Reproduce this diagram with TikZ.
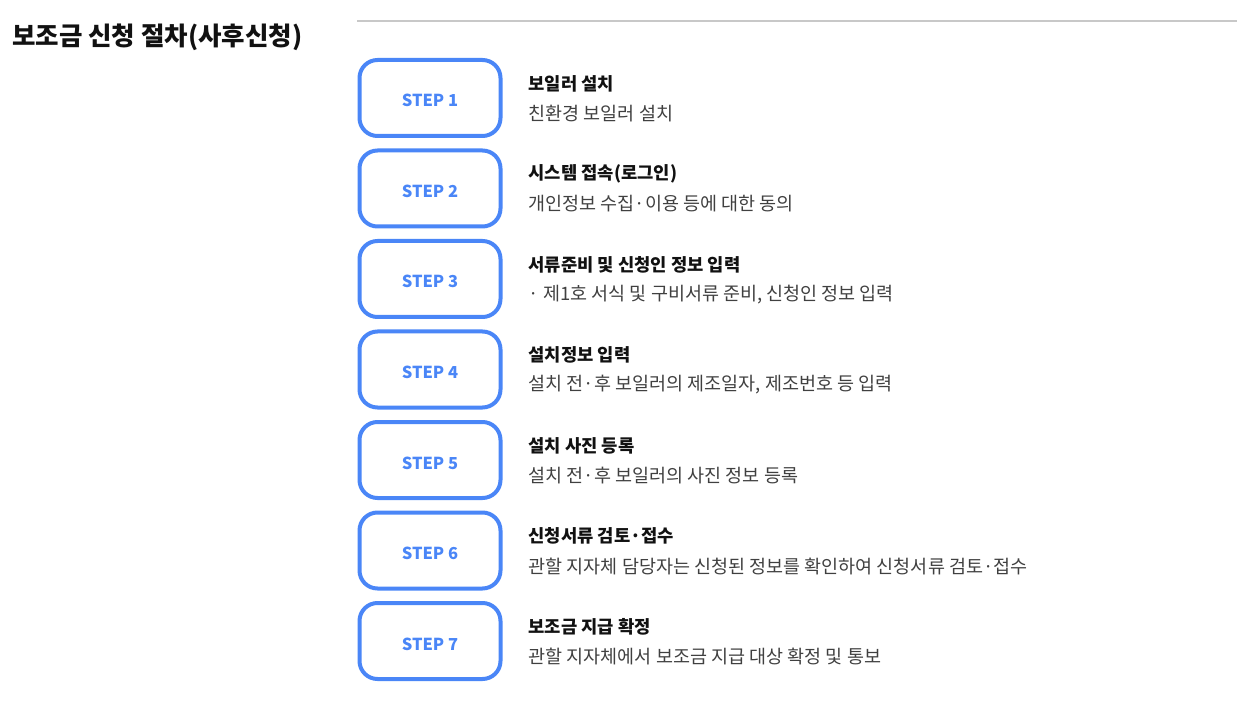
\documentclass[tikz,border=0pt]{standalone}
\usepackage{fontspec}
\setmainfont{Noto Sans CJK KR}
\usetikzlibrary{chains,positioning}
\definecolor{stepblue}{RGB}{74,134,247}
\definecolor{rulegray}{RGB}{200,200,200}
\definecolor{headtext}{RGB}{17,17,17}
\definecolor{desctext}{RGB}{64,64,64}
\tikzset{
    page title/.style = {
        anchor=west,
        inner sep=0pt,
        text=headtext,
        font=\bfseries\fontsize{25.5}{30}\selectfont,
        },
    top rule/.style = {
        draw=rulegray,
        line width=2.5pt,
        },
    step box/.style = {
        draw=stepblue,
        line width=4pt,
        rounded corners=18pt,
        minimum width=141pt,
        minimum height=76pt,
        text=stepblue,
        text height=18pt,
        text depth=0pt,
        font=\bfseries\fontsize{16.5}{20}\selectfont,
        on chain,
        },
    step head/.style = {
        anchor=west,
        inner sep=0pt,
        text=headtext,
        font=\bfseries\fontsize{17.7}{21}\selectfont,
        },
    step text/.style = {
        anchor=west,
        inner sep=0pt,
        text=desctext,
        font=\fontsize{18.5}{22}\selectfont,
        },
}

\begin{document}
\begin{tikzpicture}[
            x=1pt, y=1pt,
            start chain = going below,
            node distance = 10.5pt,
            ]
            \useasboundingbox (0,0) rectangle (1237,-703);

            \node[page title] (title) at (12,-37) {보조금 신청 절차(사후신청)};
            \coordinate (rule start) at (357,-21);
            \coordinate (rule end) at (1237,-21);
            \draw[top rule] (rule start) -- (rule end);

            % step boxes
            \node[step box] (s1) at (430,-98) {STEP 1};
            \node[step box] (s2) {STEP 2};
            \node[step box] (s3) {STEP 3};
            \node[step box] (s4) {STEP 4};
            \node[step box] (s5) {STEP 5};
            \node[step box] (s6) {STEP 6};
            \node[step box] (s7) {STEP 7};

            % titles and descriptions
            \node[step head] (h1) at ([xshift=26, yshift=14.5]s1.east) {보일러 설치};
            \node[step text] (d1) at ([xshift=26, yshift=-15.5]s1.east) {친환경 보일러 설치};

            \node[step head] (h2) at ([xshift=26, yshift=14.5]s2.east) {시스템 접속(로그인)};
            \node[step text] (d2) at ([xshift=26, yshift=-15.5]s2.east) {개인정보 수집·이용 등에 대한 동의};

            \node[step head] (h3) at ([xshift=26, yshift=14.5]s3.east) {서류준비 및 신청인 정보 입력};
            \node[step text] (d3) at ([xshift=26, yshift=-15.5]s3.east) {· 제1호 서식 및 구비서류 준비, 신청인 정보 입력};

            \node[step head] (h4) at ([xshift=26, yshift=14.5]s4.east) {설치정보 입력};
            \node[step text] (d4) at ([xshift=26, yshift=-15.5]s4.east) {설치 전·후 보일러의 제조일자, 제조번호 등 입력};

            \node[step head] (h5) at ([xshift=26, yshift=14.5]s5.east) {설치 사진 등록};
            \node[step text] (d5) at ([xshift=26, yshift=-15.5]s5.east) {설치 전·후 보일러의 사진 정보 등록};

            \node[step head] (h6) at ([xshift=26, yshift=14.5]s6.east) {신청서류 검토·접수};
            \node[step text] (d6) at ([xshift=26, yshift=-15.5]s6.east) {관할 지자체 담당자는 신청된 정보를 확인하여 신청서류 검토·접수};

            \node[step head] (h7) at ([xshift=26, yshift=14.5]s7.east) {보조금 지급 확정};
            \node[step text] (d7) at ([xshift=26, yshift=-15.5]s7.east) {관할 지자체에서 보조금 지급 대상 확정 및 통보};
        \end{tikzpicture}
\end{document}
